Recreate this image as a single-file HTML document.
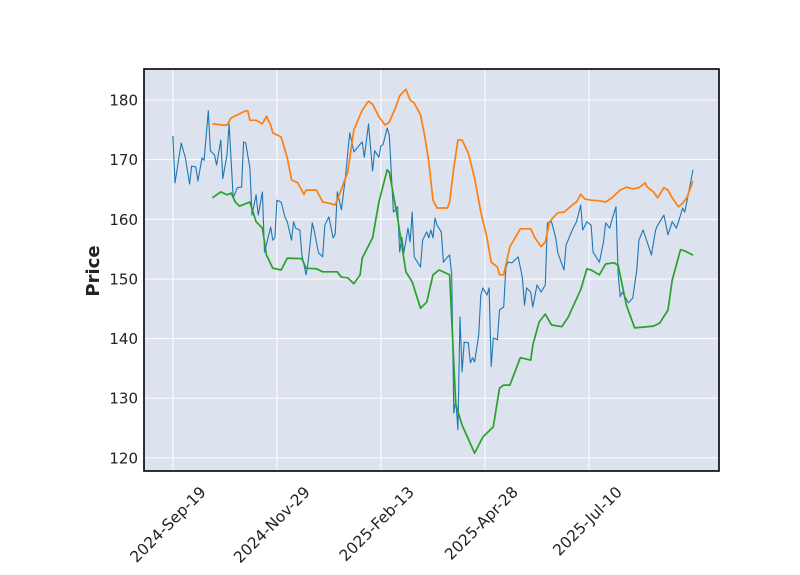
<!DOCTYPE html>
<html><head><meta charset="utf-8"><style>
body{margin:0;background:#fff;}
svg{display:block;font-family:"DejaVu Sans","Liberation Sans",sans-serif;}
</style></head><body>
<svg id="chart" width="800" height="575" viewBox="0 0 800 575" xmlns="http://www.w3.org/2000/svg">
<rect x="144" y="69" width="575" height="402" fill="#dce2ee"/>
<g id="grid"></g>
<g id="series"></g>
<rect x="144" y="69" width="575" height="402" fill="none" stroke="#000" stroke-width="1.6"/>
<g id="yticks"></g>
<g id="xticks"></g>
<text x="99" y="271" transform="rotate(-90 99 271)" text-anchor="middle" font-size="18" font-weight="bold" fill="#222">Price</text>
</svg>
<script>
const xTickIdx=[0,50,100,150,200];
const xTickLabels=["2024-Sep-19","2024-Nov-29","2025-Feb-13","2025-Apr-28","2025-Jul-10"];
const yTicks=[120,130,140,150,160,170,180];
const closeIdx=[0,1,4,6,8,9,11,12,14,15,17,18,20,21,23,24,26,27,29,31,33,34,35,37,38,40,41,43,44,47,48,49,50,52,54,55,57,58,59,61,62,64,65,67,68,70,72,73,75,77,78,79,81,83,85,87,91,92,94,96,97,99,100,101,103,104,106,108,109,110,111,113,114,115,116,119,120,122,123,124,125,126,127,129,130,132,133,134,135,136,137,138,139,140,142,143,144,145,147,148,149,151,152,153,154,156,157,159,160,161,163,166,168,169,170,172,173,175,177,179,180,182,184,185,188,189,192,194,196,197,199,201,202,205,207,208,210,211,213,214,215,216,219,221,223,224,226,228,230,232,233,236,238,240,242,244,245,246,248,250];
const closeVals=[174.0,166.1,172.8,170.3,165.9,168.9,168.8,166.4,170.3,169.9,178.2,171.5,170.8,169.1,173.3,166.8,170.8,176.0,163.6,165.3,165.4,173.0,172.8,168.6,160.7,164.1,160.7,164.6,154.5,158.7,156.5,156.9,163.2,162.9,160.2,159.6,156.5,159.6,158.5,158.2,154.0,150.7,152.8,159.4,157.9,154.4,153.7,159.0,160.4,156.9,157.5,164.6,161.6,167.3,174.5,171.3,173.0,170.4,176.0,168.1,171.5,170.4,172.3,172.5,175.3,174.1,161.2,162.1,154.5,157.0,154.4,158.5,156.2,161.2,153.7,152.0,156.5,157.9,156.9,158.2,156.9,160.2,159.0,157.9,152.8,153.7,154.0,150.7,127.5,129.7,124.7,143.6,134.4,139.4,139.3,135.9,136.8,136.1,140.6,147.3,148.5,147.3,148.5,135.3,140.1,139.8,144.8,145.3,151.8,152.8,152.7,153.7,150.2,145.6,148.5,147.8,145.3,149.0,147.8,149.0,159.4,159.6,156.9,154.4,151.5,155.7,158.2,159.6,162.4,158.2,159.6,159.0,154.5,152.8,156.2,159.4,158.5,159.9,162.1,151.0,147.0,147.8,146.0,146.8,151.5,156.5,158.2,156.2,154.0,158.2,159.0,160.7,157.4,159.6,158.5,160.7,161.9,161.2,164.6,168.3];
const upperIdx=[19,24,26,28,31,35,36,37,40,43,45,47,48,52,55,57,60,63,64,69,72,75,78,80,84,87,91,94,96,99,102,104,107,109,112,114,116,119,121,123,125,127,132,133,135,137,139,142,145,148,151,153,156,157,159,162,167,172,174,177,179,181,185,188,192,194,196,198,201,205,208,211,215,218,221,224,227,228,231,233,236,238,240,243,245,247,250];
const upperVals=[176.0,175.8,175.8,177.0,177.5,178.2,178.2,176.6,176.6,176.0,177.3,175.8,174.5,173.8,170.3,166.6,166.1,164.2,164.9,164.9,162.9,162.7,162.4,164.1,167.9,175.0,178.3,179.8,179.3,177.2,175.8,176.3,178.7,180.7,181.8,180.0,179.5,177.5,174.1,169.6,163.2,161.9,161.9,162.9,168.6,173.3,173.3,171.1,166.9,161.2,156.9,152.8,152.0,150.7,150.7,155.4,158.4,158.4,156.9,155.4,156.2,159.6,161.1,161.2,162.4,162.9,164.2,163.4,163.2,163.1,162.9,163.6,164.9,165.4,165.1,165.3,166.1,165.4,164.6,163.6,165.3,164.9,163.6,162.1,162.7,163.6,166.4];
const lowerIdx=[19,23,26,28,30,32,37,40,43,45,48,52,55,62,64,69,72,79,81,84,87,90,91,96,99,103,104,108,112,115,119,122,125,128,133,136,139,145,149,154,157,159,162,167,172,173,176,179,182,187,190,196,199,201,205,208,212,214,218,222,231,234,238,240,244,246,250];
const lowerVals=[163.6,164.6,164.1,164.4,162.9,162.2,162.9,159.6,158.5,154.0,151.8,151.5,153.5,153.4,151.8,151.7,151.2,151.2,150.3,150.2,149.2,150.7,153.5,156.9,162.9,168.3,167.9,160.2,151.2,149.5,145.1,146.1,150.7,151.5,150.7,128.9,125.5,120.8,123.5,125.2,131.7,132.2,132.2,136.8,136.4,138.9,142.8,144.1,142.3,142.0,143.6,148.2,151.7,151.5,150.7,152.5,152.7,152.3,145.6,141.8,142.1,142.6,144.8,149.8,154.9,154.7,154.0];

const NS="http://www.w3.org/2000/svg";
const L=144,R=719,T=69,B=471;
const xMin=-13.9,xMax=262.5,yMin=117.8,yMax=185.2;
const xs=i=>L+(i-xMin)/(xMax-xMin)*(R-L);
const ys=v=>B-(v-yMin)/(yMax-yMin)*(B-T);
const grid=document.getElementById('grid');
xTickIdx.forEach((t,k)=>{
  const l=document.createElementNS(NS,'line');
  
  
  l.setAttribute('x1',xs(t));l.setAttribute('x2',xs(t));l.setAttribute('y1',T);l.setAttribute('y2',B);
  l.setAttribute('stroke','#fff');l.setAttribute('stroke-width','1');
  grid.appendChild(l);
  const tx=document.createElementNS(NS,'text');
  
  
  const px=xs(t)+34,py=493;
  tx.setAttribute('x',px);tx.setAttribute('y',py);
  tx.setAttribute('text-anchor','end');tx.setAttribute('font-size','15.5');tx.setAttribute('fill','#222');
  tx.setAttribute('transform','rotate(-45 '+px+' '+py+')');
  tx.textContent=xTickLabels[k];
  document.getElementById('xticks').appendChild(tx);
});
yTicks.forEach(v=>{
  const l=document.createElementNS(NS,'line');
  
  
  l.setAttribute('x1',L);l.setAttribute('x2',R);l.setAttribute('y1',ys(v));l.setAttribute('y2',ys(v));
  l.setAttribute('stroke','#fff');l.setAttribute('stroke-width','1');
  grid.appendChild(l);
  const tx=document.createElementNS(NS,'text');
  
  
  tx.setAttribute('x',L-6);tx.setAttribute('y',ys(v)+5.5);
  tx.setAttribute('text-anchor','end');tx.setAttribute('font-size','15');tx.setAttribute('fill','#222');
  tx.textContent=v;
  document.getElementById('yticks').appendChild(tx);
});
function line(idx,vals,color,w,name){
  const p=document.createElementNS(NS,'path');
  
  
  p.setAttribute('d',idx.map((i,k)=>(k?'L':'M')+xs(i).toFixed(1)+','+ys(vals[k]).toFixed(1)).join(''));
  p.setAttribute('fill','none');p.setAttribute('stroke',color);p.setAttribute('stroke-width',w);
  p.setAttribute('stroke-linejoin','round');
  document.getElementById('series').appendChild(p);
}
line(closeIdx,closeVals,'#1f77b4',1.1,'close-price-line');
line(upperIdx,upperVals,'#ff7f0e',1.7,'upper-band-line');
line(lowerIdx,lowerVals,'#2ca02c',1.7,'lower-band-line');
</script>
</body></html>
